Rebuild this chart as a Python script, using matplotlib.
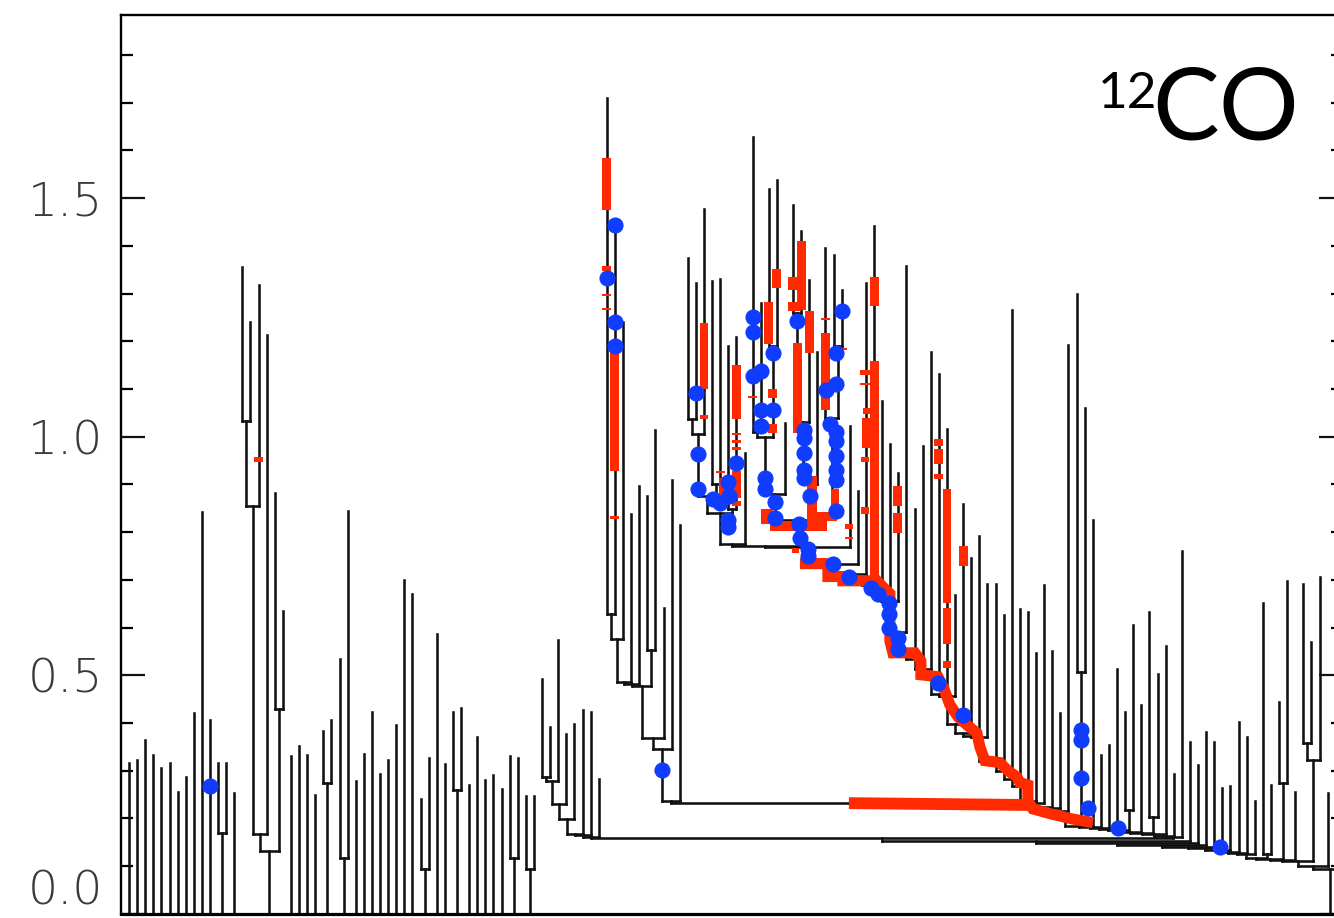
import numpy as np
import matplotlib
matplotlib.use("Agg")
import matplotlib.pyplot as plt
from matplotlib.collections import LineCollection

plt.rcParams["font.family"] = ["Lato", "DejaVu Sans"]

# ── dendrogram leaves, left to right (x = leaf index) ───────────────────────
LEAF_PEAK = [
    0.317, 0.322, 0.364, 0.333, 0.305, 0.316, 0.256, 0.286, 0.420, 0.843,   # 0-9
    0.407, 0.316, 0.316, 0.254, 1.356, 1.240, 1.319, 1.214, 0.882, 0.634,   # 10-19
    0.331, 0.351, 0.333, 0.248, 0.384, 0.406, 0.535, 0.845, 0.279, 0.335,   # 20-29
    0.423, 0.293, 0.322, 0.396, 0.700, 0.670, 0.241, 0.327, 0.586, 0.315,   # 30-39
    0.424, 0.431, 0.270, 0.370, 0.281, 0.291, 0.261, 0.331, 0.326, 0.247,   # 40-49
    0.247, 0.493, 0.391, 0.574, 0.377, 0.398, 0.428, 0.424, 0.282, 1.710,   # 50-59
    1.444, 1.240, 0.839, 0.897, 0.876, 1.015, 0.641, 0.909, 0.815, 1.374,   # 60-69
    1.322, 1.477, 1.327, 1.330, 1.191, 1.208, 0.966, 1.629, 1.280, 1.519,   # 70-79
    1.539, 1.029, 1.486, 1.432, 1.328, 1.177, 1.396, 1.380, 1.307, 1.022,   # 80-89
    0.887, 1.323, 1.442, 1.075, 0.985, 0.925, 1.358, 0.848, 0.981, 1.177,   # 90-99
    1.131, 1.017, 0.668, 0.859, 0.745, 0.791, 0.692, 0.692, 0.626, 1.266,   # 100-109
    0.639, 0.632, 0.546, 0.689, 0.551, 0.421, 1.193, 1.300, 1.060, 0.826,   # 110-119
    0.333, 0.354, 0.513, 0.424, 0.605, 0.437, 0.633, 0.502, 0.561, 0.293,   # 120-129
    0.760, 0.361, 0.312, 0.382, 0.361, 0.264, 0.268, 0.403, 0.370, 0.237,   # 130-139
    0.651, 0.270, 0.443, 0.697, 0.256, 0.691, 0.570, 0.705, 0.253, 0.300,   # 140-149
    0.360, 0.280, 0.400,                                                    # 150-152
]

# level at which leaf i and leaf i+1 become connected (0 = separate trees)
JOIN_LEVEL = [
    0, 0, 0, 0, 0, 0, 0, 0, 0, 0,                                           # 0-9
    0, 0.170, 0, 0, 1.032, 0.854, 0.168, 0.132, 0.430, 0,                   # 10-19
    0, 0, 0, 0, 0.275, 0, 0.116, 0, 0, 0,                                   # 20-29
    0, 0, 0, 0, 0, 0, 0.093, 0, 0, 0,                                       # 30-39
    0.259, 0, 0, 0, 0, 0, 0, 0.118, 0, 0.094,                               # 40-49
    0, 0.286, 0.279, 0.230, 0.198, 0.168, 0.165, 0.160, 0.158, 0.628,       # 50-59
    0.576, 0.485, 0.481, 0.478, 0.553, 0.368, 0.345, 0.236, 0.233, 1.037,   # 60-69
    1.006, 0.875, 0.900, 0.840, 0.848, 0.775, 0.772, 1.009, 1.000, 1.190,   # 70-79
    0.880, 0.826, 1.260, 1.030, 0.900, 0.840, 1.040, 1.190, 0.768, 0.734,   # 80-89
    0.713, 0.698, 0.690, 0.668, 0.655, 0.590, 0.545, 0.534, 0.513, 0.499,   # 90-99
    0.461, 0.457, 0.398, 0.380, 0.373, 0.370, 0.321, 0.314, 0.300, 0.282,   # 100-109
    0.268, 0.237, 0.232, 0.223, 0.222, 0.216, 0.205, 0.506, 0.184, 0.182,   # 110-119
    0.180, 0.178, 0.175, 0.217, 0.172, 0.170, 0.202, 0.167, 0.163, 0.160,   # 120-129
    0.153, 0.148, 0.144, 0.140, 0.137, 0.133, 0.130, 0.127, 0.125, 0.117,   # 130-139
    0.125, 0.114, 0.275, 0.112, 0.1105, 0.359, 0.323, 0.100, 0.094, 0.130,  # 140-149
    0.120, 0.140,                                                           # 150-151
]

# ── blue points (x in leaf units, y in value units) ─────────────────────────
DOT_X = [10.0, 59.0, 60.0, 60.0, 60.0, 65.8, 70.0, 70.25, 70.25, 72.1,
         73.0, 74.0, 74.1, 74.0, 74.0, 75.0, 77.0, 77.0, 77.0, 78.0,
         78.0, 79.5, 78.0, 79.5, 78.5, 78.5, 79.75, 79.75, 82.5, 83.3,
         83.3, 83.3, 83.3, 83.3, 84.1, 82.7, 82.85, 83.9, 83.9, 88.0,
         87.3, 87.3, 86.05, 86.5, 87.3, 87.3, 87.3, 87.3, 87.3, 87.3,
         86.95, 88.9, 91.6, 92.5, 93.9, 93.9, 93.9, 95.0, 95.0, 99.9,
         103.0, 117.5, 117.5, 117.5, 118.4, 122.1, 134.7]
DOT_Y = [0.268, 1.333, 1.444, 1.241, 1.191, 0.302, 1.092, 0.964, 0.891, 0.870,
         0.862, 0.906, 0.876, 0.826, 0.811, 0.945, 1.252, 1.220, 1.128, 1.138,
         1.055, 1.055, 1.023, 1.176, 0.914, 0.891, 0.864, 0.830, 1.243, 1.015,
         0.998, 0.966, 0.931, 0.914, 0.876, 0.818, 0.788, 0.765, 0.751, 1.264,
         1.175, 1.111, 1.099, 1.026, 1.010, 0.992, 0.960, 0.931, 0.910, 0.845,
         0.734, 0.706, 0.683, 0.670, 0.652, 0.629, 0.600, 0.579, 0.556, 0.484,
         0.417, 0.386, 0.365, 0.285, 0.221, 0.180, 0.139]

# ── red highlighted pieces: centre x, width, low, high ─────────────────────
RED_X = [16.0, 59.0, 59.0, 59.0, 59.0, 60.0, 60.0, 71.0, 71.0, 73.3,
         73.0, 75.0, 75.0, 75.0, 75.0, 75.0, 75.0, 77.0, 79.0, 80.0,
         79.5, 79.5, 82.5, 83.0, 84.0, 86.0, 86.0, 92.0, 92.0, 88.9,
         88.9, 94.9, 94.9, 100.0, 100.0, 100.0, 101.0, 101.0, 101.0, 103.0,
         84.3, 87.2, 82.3, 82.5, 82.2, 91.5, 91.3, 90.95, 90.9, 90.9,
         90.95, 87.75, 78.75, 82.65, 86.15, 85.4]
RED_W = [1.1, 1.1, 1.1, 1.1, 1.1, 1.1, 1.1, 1.1, 1.1, 0.9,
         1.1, 1.1, 1.1, 1.1, 1.1, 1.1, 1.1, 1.1, 1.1, 1.1,
         1.1, 1.1, 1.1, 1.1, 1.1, 1.1, 1.1, 1.1, 1.1, 1.1,
         1.1, 1.1, 1.1, 1.1, 1.1, 1.1, 1.1, 1.1, 1.1, 1.1,
         1.2, 1.0, 0.9, 2.2, 1.6, 2.0, 1.4, 1.5, 1.0, 1.0,
         1.5, 1.7, 1.5, 7.1, 2.5, 1.2]
RED_LO = [0.948, 1.476, 1.348, 1.296, 1.266, 0.929, 0.828, 1.101, 1.038, 0.872,
          0.925, 1.038, 1.004, 0.987, 0.973, 0.872, 0.855, 1.082, 1.195, 1.312,
          1.082, 1.008, 1.008, 1.266, 1.176, 1.245, 1.055, 1.275, 0.704, 0.807,
          0.786, 0.855, 0.799, 0.981, 0.943, 0.912, 0.652, 0.566, 0.516, 0.730,
          0.824, 0.843, 0.757, 1.308, 1.264, 0.977, 1.047, 1.130, 0.946, 0.838,
          1.108, 1.182, 0.818, 0.803, 0.824, 0.742]
RED_HI = [0.958, 1.585, 1.358, 1.300, 1.270, 1.180, 0.834, 1.239, 1.046, 0.914,
          0.929, 1.151, 1.008, 0.994, 0.979, 0.929, 0.866, 1.086, 1.283, 1.352,
          1.099, 1.027, 1.197, 1.411, 1.264, 1.249, 1.218, 1.334, 1.159, 0.817,
          0.790, 0.897, 0.841, 0.996, 0.975, 0.922, 0.891, 0.642, 0.530, 0.772,
          0.918, 0.891, 0.767, 1.335, 1.283, 1.040, 1.061, 1.140, 0.957, 0.852,
          1.112, 1.186, 0.849, 0.824, 0.843, 0.746]

# red path along the main trunk
STEP_X = [82.84, 86.30, 86.30, 88.15, 88.15, 92.35, 93.33, 93.95, 93.95, 94.32,
          97.04, 97.78, 97.78, 99.88, 100.62, 101.36, 102.35, 103.46, 104.69, 105.06,
          105.68, 107.53, 108.52, 109.63, 110.0, 110.99, 110.99, 111.6, 113.7, 116.42,
          119.01]
STEP_Y = [0.734, 0.734, 0.707, 0.707, 0.698, 0.698, 0.681, 0.671, 0.572, 0.547,
          0.547, 0.530, 0.501, 0.497, 0.472, 0.438, 0.413, 0.396, 0.379, 0.350,
          0.321, 0.317, 0.300, 0.287, 0.275, 0.270, 0.237, 0.220, 0.210, 0.199,
          0.191]
BAND_X = [88.89, 111.6]
BAND_Y = [0.232, 0.228]

BLACK = "#111111"
RED = "#ff2a00"
BLUE = "#0f3cff"


def dendro_segments(peaks, joins):
    segs = []

    def walk(lo, hi, base):
        if lo == hi:
            segs.append([(lo, base), (lo, peaks[lo])])
            return float(lo)
        level = min(joins[lo:hi])
        cuts = [i for i in range(lo, hi) if joins[i] == level]
        ranges, start = [], lo
        for c in cuts:
            ranges.append((start, c))
            start = c + 1
        ranges.append((start, hi))
        xs = [walk(a, b, level) for a, b in ranges]
        segs.append([(xs[0], level), (xs[-1], level)])
        x = 0.5 * (xs[0] + xs[-1])
        segs.append([(x, base), (x, level)])
        return x

    walk(0, len(peaks) - 1, 0.0)
    return segs


fig = plt.figure(figsize=(13.34, 9.18), dpi=100)
ax = fig.add_axes([121 / 1334, 4.2 / 918, 1222 / 1334, 898.8 / 918])

lc = LineCollection(dendro_segments(LEAF_PEAK, JOIN_LEVEL), colors=BLACK,
                    linewidths=1.85, capstyle="projecting", zorder=2)
ax.add_collection(lc)

ax.bar(RED_X, np.array(RED_HI) - np.array(RED_LO), width=RED_W, bottom=RED_LO,
       color=RED, linewidth=0, zorder=3)
ax.plot(STEP_X, STEP_Y, color=RED, lw=8, solid_joinstyle="miter",
        solid_capstyle="butt", zorder=3)
ax.plot(BAND_X, BAND_Y, color=RED, lw=8.5, solid_capstyle="butt", zorder=3)

ax.scatter(DOT_X, DOT_Y, s=135, color=BLUE, linewidths=0, zorder=4)

ax.set_xlim(-0.99, 149.9)
ax.set_ylim(0, 1.884)
ax.set_xticks([])
ax.set_yticks([0, 0.5, 1.0, 1.5])
ax.set_yticklabels(["0.0", "0.5", "1.0", "1.5"])
ax.set_yticks(np.arange(0, 1.85, 0.1), minor=True)
ax.tick_params(axis="y", which="major", direction="in", length=17, width=1.6,
               right=True, labelsize=34, pad=13, colors=BLACK)
ax.tick_params(axis="y", which="minor", direction="in", length=8.5, width=1.6,
               right=True)
for lbl in ax.get_yticklabels():
    lbl.set_family(["DejaVu Sans"])
    lbl.set_fontweight("light")
    lbl.set_color("#3a3a3a")
ax.get_yticklabels()[0].set_va("bottom")

for side in ["left", "right", "top"]:
    ax.spines[side].set_linewidth(1.7)
ax.spines["bottom"].set_linewidth(2.3)

ax.text(0.7995, 0.8965, "12", transform=ax.transAxes, fontsize=37,
        ha="left", va="baseline", color="black")
ax.text(0.8437, 0.861, "CO", transform=ax.transAxes, fontsize=72,
        ha="left", va="baseline", color="black")

fig.savefig("out.png", dpi=100)
